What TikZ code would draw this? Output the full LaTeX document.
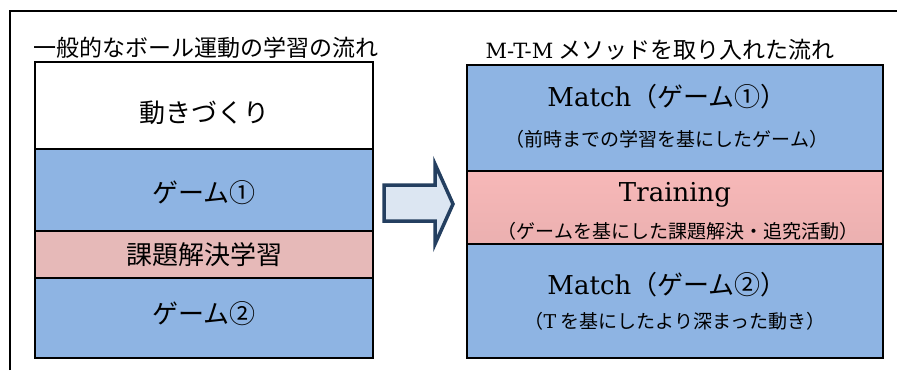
\documentclass[tikz,border=0pt]{standalone}
\usepackage{fontspec}
\newfontfamily\cjk{Noto Sans CJK JP}
\newfontfamily\lat{DejaVu Serif}
\newcommand\myfs[1]{\fontsize{#1}{#1}\selectfont}
\definecolor{blu}{HTML}{8EB4E3}
\definecolor{pnkL}{HTML}{E6B9B8}
\definecolor{pnkRt}{HTML}{F7B8B8}
\definecolor{pnkRb}{HTML}{EBB0B0}
\definecolor{navy}{HTML}{243F60}
\definecolor{arrfill}{HTML}{DCE6F2}
\tikzset{
  band/.style={draw=black, line width=1.5pt, inner sep=0pt, outer sep=0pt},
  lband/.style={band, minimum width=338pt},
  rband/.style={band, minimum width=416pt},
  big/.style={inner sep=0pt, font=\myfs{26}\cjk},
  small/.style={inner sep=0pt, font=\myfs{19}\cjk},
  head/.style={inner sep=0pt, font=\myfs{23}\cjk},
}
\begin{document}
\begin{tikzpicture}[x=1pt,y=-1pt]
\useasboundingbox (0,0) rectangle (897,370);
% frame
\draw[line width=2pt] (10,370) -- (10,11) -- (897,11);
% left column
\node[lband, fill=white, minimum height=87pt] (l1) at (204,105.5) {};
\node[lband, fill=blu, minimum height=82pt] (l2) at (204,190) {};
\node[lband, fill=pnkL, minimum height=47pt] (l3) at (204,254.5) {};
\node[lband, fill=blu, minimum height=80pt] (l4) at (204,318) {};
\node[head, anchor=west] (lh) at (33,48) {一般的なボール運動の学習の流れ};
\node[big] (t1) at (204,113) {動きづくり};
\node[big] (t2) at (204,193) {ゲーム①};
\node[big] (t3) at (204,255) {課題解決学習};
\node[big] (t4) at (204,314) {ゲーム②};
% right column
\node[rband, fill=blu, minimum height=106pt] (r1) at (675,118) {};
\node[rband, top color=pnkRt, bottom color=pnkRb, minimum height=73pt] (r2) at (675,207.5) {};
\node[rband, fill=blu, minimum height=114pt] (r3) at (675,301) {};
\node[head] (rh) at (660,50) {{\lat\myfs{21}M-T-M} メソッドを取り入れた流れ};
\node[big] (m1) at (667,97) {{\lat\myfs{26}Match}（ゲーム①）};
\node[small] (s1) at (667,139) {（前時までの学習を基にしたゲーム）};
\node[big] (tr) at (675,195) {{\lat\myfs{26}Training}};
\node[small] (s2) at (678,231) {（ゲームを基にした課題解決・追究活動）};
\node[big] (m2) at (667,285) {{\lat\myfs{26}Match}（ゲーム②）};
\node[small] (s3) at (675,321) {（{\lat T} を基にしたより深まった動き）};
% block arrow
\draw[draw=navy, fill=arrfill, line width=3.5pt, line join=miter]
  (384,185) -- (435,185) -- (435,164) -- (453,204) -- (435,244) -- (435,221) -- (384,221) -- cycle;
\end{tikzpicture}
\end{document}
